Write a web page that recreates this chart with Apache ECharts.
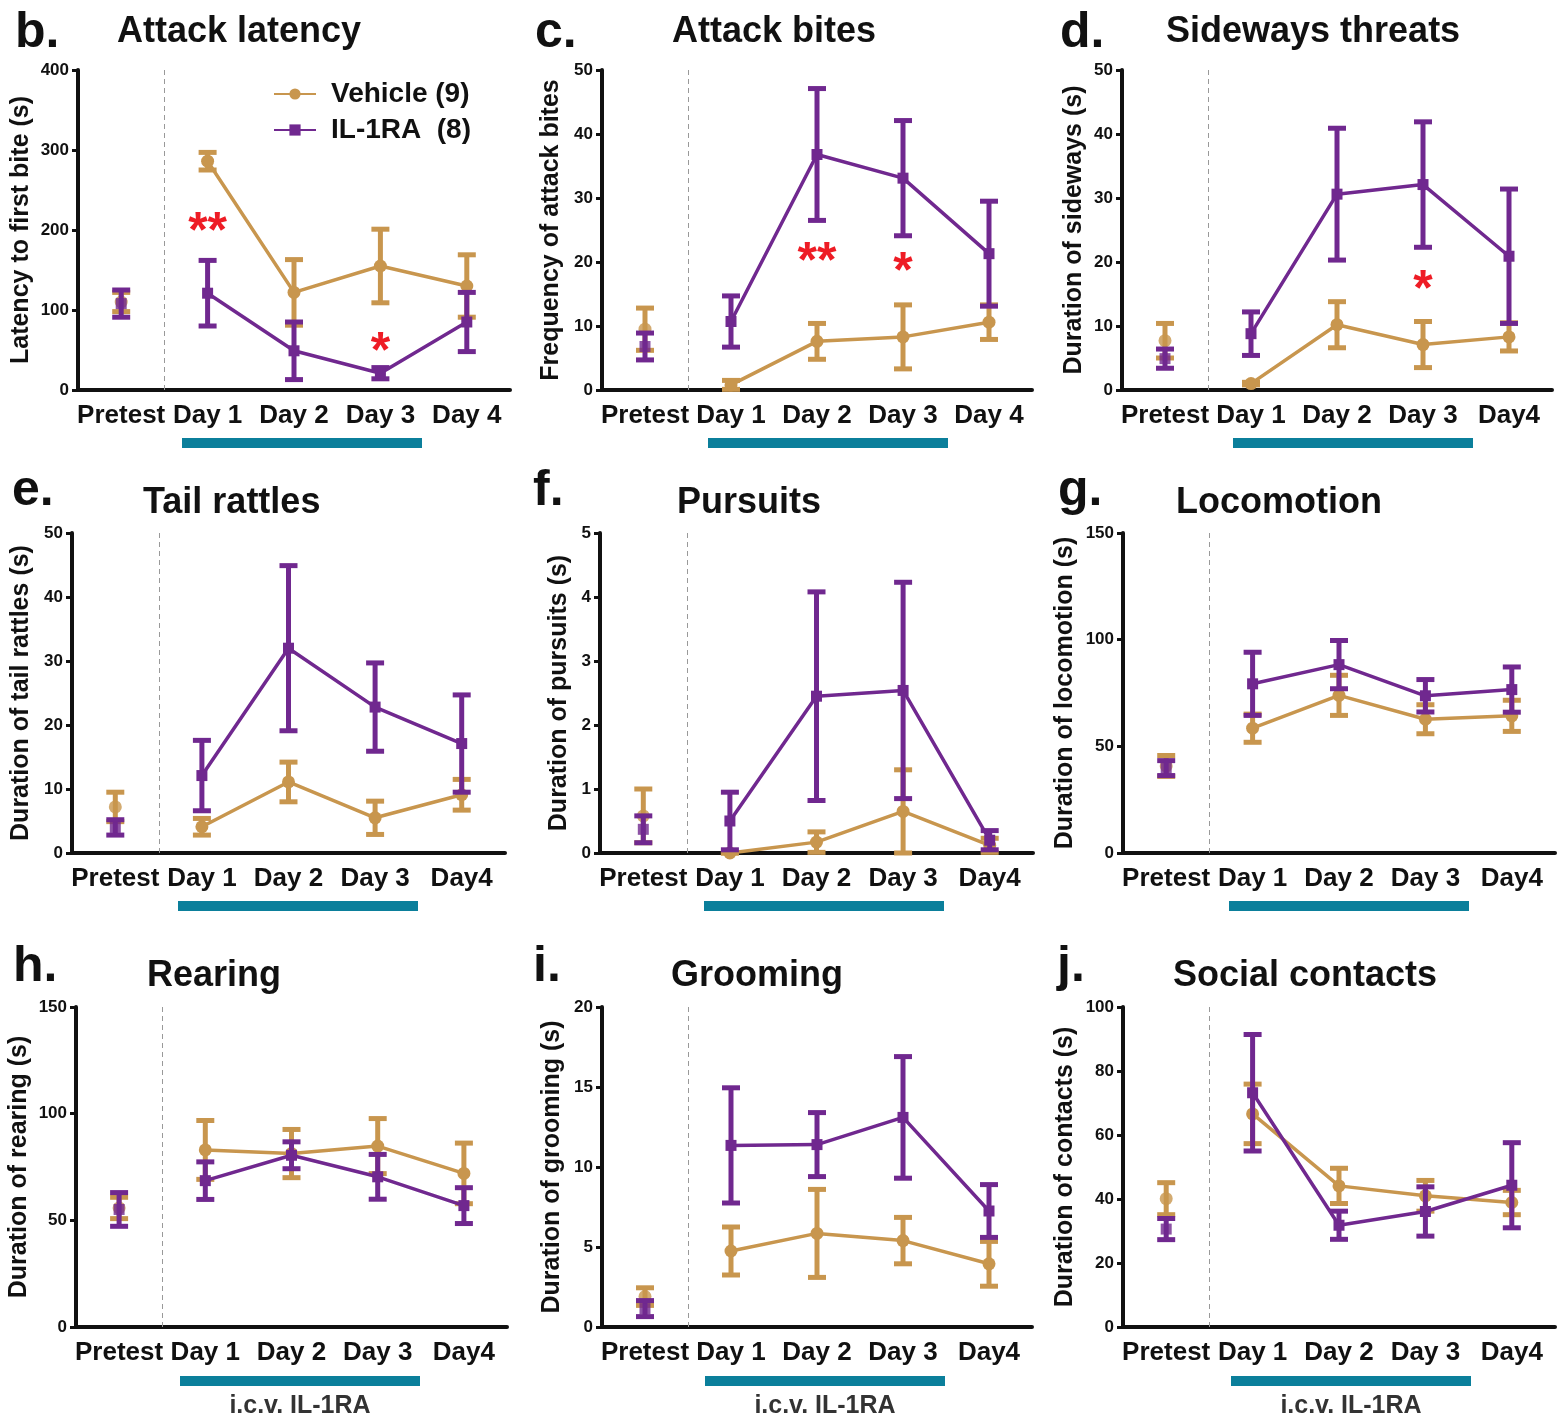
<!DOCTYPE html>
<html>
<head>
<meta charset="utf-8">
<script src="https://cdn.jsdelivr.net/npm/echarts@6/dist/echarts.min.js"></script>
<style>
  html, body { margin: 0; padding: 0; background: #fff; }
  #chart { width: 1562px; height: 1418px; }
</style>
</head>
<body>
<div id="chart"></div>
<script>
// category labels
const daysA = ['Pretest', 'Day 1', 'Day 2', 'Day 3', 'Day 4']
const daysB = ['Pretest', 'Day 1', 'Day 2', 'Day 3', 'Day4']

// b. attack latency
const latencyVeh = [110, 286, 122, 155, 130]
const latencyVehSem = [12, 11, 41, 46, 39]
const latencyIl = [108, 121, 49, 21, 85]
const latencyIlSem = [17, 41, 36, 7, 37]
const latencySig = [[1, 210, '**'], [3, 60, '*']]

// c. attack bites
const bitesVeh = [9.5, 0.8, 7.6, 8.3, 10.6]
const bitesVehSem = [3.3, 0.7, 2.8, 5.0, 2.7]
const bitesIl = [6.8, 10.7, 36.8, 33.1, 21.3]
const bitesIlSem = [2.1, 4.0, 10.3, 9.0, 8.2]
const bitesSig = [[2, 21.6, '**'], [3, 20, '*']]

// d. sideways threats
const sidewaysVeh = [7.7, 1.0, 10.2, 7.1, 8.3]
const sidewaysVehSem = [2.7, 0.2, 3.6, 3.6, 2.2]
const sidewaysIl = [4.9, 8.8, 30.6, 32.1, 20.9]
const sidewaysIlSem = [1.5, 3.4, 10.3, 9.8, 10.5]
const sidewaysSig = [[3, 17.2, '*']]

// e. tail rattles
const rattlesVeh = [7.2, 4.1, 11.1, 5.5, 9.1]
const rattlesVehSem = [2.3, 1.3, 3.1, 2.6, 2.4]
const rattlesIl = [4.0, 12.1, 32.0, 22.8, 17.1]
const rattlesIlSem = [1.2, 5.5, 12.9, 6.9, 7.6]

// f. pursuits
const pursuitsVeh = [0.58, 0.0, 0.17, 0.65, 0.12]
const pursuitsVehSem = [0.42, 0.0, 0.16, 0.65, 0.11]
const pursuitsIl = [0.37, 0.5, 2.45, 2.54, 0.2]
const pursuitsIlSem = [0.21, 0.45, 1.63, 1.69, 0.15]

// g. locomotion
const locoVeh = [40.8, 58.5, 73.9, 62.7, 64.3]
const locoVehSem = [4.9, 6.6, 9.4, 6.8, 7.3]
const locoIl = [39.8, 79.3, 88.3, 73.7, 76.6]
const locoIlSem = [3.5, 14.8, 11.3, 7.6, 10.6]

// h. rearing
const rearingVeh = [55.8, 83.0, 81.3, 84.8, 72.0]
const rearingVehSem = [5.0, 13.8, 11.3, 12.9, 14.2]
const rearingIl = [55.1, 68.6, 80.5, 70.4, 56.9]
const rearingIlSem = [7.9, 8.8, 6.3, 10.5, 8.4]

// i. grooming
const groomVeh = [1.9, 4.75, 5.85, 5.4, 3.95]
const groomVehSem = [0.55, 1.5, 2.75, 1.45, 1.4]
const groomIl = [1.15, 11.35, 11.4, 13.1, 7.25]
const groomIlSem = [0.5, 3.6, 2.0, 3.8, 1.65]

// j. social contacts
const contactVeh = [40.1, 66.6, 44.1, 41.0, 38.9]
const contactVehSem = [5.0, 9.3, 5.5, 4.8, 3.8]
const contactIl = [30.6, 73.2, 31.8, 36.1, 44.3]
const contactIlSem = [3.3, 18.2, 4.4, 7.7, 13.3]

const VEH = '#C8964E'
const IL = '#70288F'
const TEAL = '#0B7F9B'
const STAR = '#EE1C25'
const FONT = '"Liberation Sans", Arial, Helvetica, sans-serif'

const rows = [
    { top: 70, letterBase: 45, titleBase: 43, barY: 438 },
    { top: 533, letterBase: 503, titleBase: 514, barY: 901 },
    { top: 1007, letterBase: 979, titleBase: 987, barY: 1376 }
]

const panels = [
    { row: 0, left: 78, width: 432, letter: 'b.', letterX: 15, title: 'Attack latency', titleX: 117, yName: 'Latency to first bite (s)', nameGap: 44, max: 400, interval: 100, cats: daysA, barX: 182, veh: latencyVeh, vehSem: latencyVehSem, il: latencyIl, ilSem: latencyIlSem, sig: latencySig },
    { row: 0, left: 602, width: 430, letter: 'c.', letterX: 535, title: 'Attack bites', titleX: 672, yName: 'Frequency of attack bites', nameGap: 38, max: 50, interval: 10, cats: daysA, barX: 708, veh: bitesVeh, vehSem: bitesVehSem, il: bitesIl, ilSem: bitesIlSem, sig: bitesSig },
    { row: 0, left: 1122, width: 430, letter: 'd.', letterX: 1060, title: 'Sideways threats', titleX: 1166, yName: 'Duration of sideways (s)', nameGap: 35, max: 50, interval: 10, cats: daysB, barX: 1233, veh: sidewaysVeh, vehSem: sidewaysVehSem, il: sidewaysIl, ilSem: sidewaysIlSem, sig: sidewaysSig },
    { row: 1, left: 72, width: 433, letter: 'e.', letterX: 12, title: 'Tail rattles', titleX: 143, yName: 'Duration of tail rattles (s)', nameGap: 38, max: 50, interval: 10, cats: daysB, barX: 178, veh: rattlesVeh, vehSem: rattlesVehSem, il: rattlesIl, ilSem: rattlesIlSem },
    { row: 1, left: 600, width: 433, letter: 'f.', letterX: 533, title: 'Pursuits', titleX: 677, yName: 'Duration of pursuits (s)', nameGap: 28, max: 5, interval: 1, cats: daysB, barX: 704, veh: pursuitsVeh, vehSem: pursuitsVehSem, il: pursuitsIl, ilSem: pursuitsIlSem },
    { row: 1, left: 1123, width: 432, letter: 'g.', letterX: 1058, title: 'Locomotion', titleX: 1176, yName: 'Duration of locomotion (s)', nameGap: 45, max: 150, interval: 50, cats: daysB, barX: 1229, veh: locoVeh, vehSem: locoVehSem, il: locoIl, ilSem: locoIlSem },
    { row: 2, left: 76, width: 431, letter: 'h.', letterX: 13, title: 'Rearing', titleX: 147, yName: 'Duration of rearing (s)', nameGap: 44, max: 150, interval: 50, cats: daysB, barX: 180, veh: rearingVeh, vehSem: rearingVehSem, il: rearingIl, ilSem: rearingIlSem, icv: true },
    { row: 2, left: 602, width: 430, letter: 'i.', letterX: 533, title: 'Grooming', titleX: 671, yName: 'Duration of grooming (s)', nameGap: 37, max: 20, interval: 5, cats: daysB, barX: 705, veh: groomVeh, vehSem: groomVehSem, il: groomIl, ilSem: groomIlSem, icv: true },
    { row: 2, left: 1123, width: 432, letter: 'j.', letterX: 1057, title: 'Social contacts', titleX: 1173, yName: 'Duration of contacts (s)', nameGap: 45, max: 100, interval: 20, cats: daysB, barX: 1231, veh: contactVeh, vehSem: contactVehSem, il: contactIl, ilSem: contactIlSem, icv: true }
]

function errData(mean, sem) {
    return mean.map((m, i) => [i, m - sem[i], m + sem[i]])
}

function errRender(color) {
    return function (params, api) {
        const top = api.coord([api.value(0), api.value(2)])
        const bot = api.coord([api.value(0), api.value(1)])
        const hw = 9
        return {
            type: 'group',
            children: [
                { type: 'line', shape: { x1: top[0], y1: top[1], x2: bot[0], y2: bot[1] }, style: { stroke: color, lineWidth: 5 } },
                { type: 'line', shape: { x1: top[0] - hw, y1: top[1], x2: top[0] + hw, y2: top[1] }, style: { stroke: color, lineWidth: 5 } },
                { type: 'line', shape: { x1: bot[0] - hw, y1: bot[1], x2: bot[0] + hw, y2: bot[1] }, style: { stroke: color, lineWidth: 5 } }
            ]
        }
    }
}

// dashed divider between Pretest and Day 1
function dividerRender(params, api) {
    const p = api.coord([0, 0])
    const bw = api.size([1, 0])[0]
    const x = Math.round(p[0] + bw / 2) + 0.5
    const cs = params.coordSys
    return {
        type: 'line',
        shape: { x1: x, y1: cs.y, x2: x, y2: cs.y + cs.height },
        style: { stroke: '#999', lineWidth: 1, lineDash: [5, 4] }
    }
}

function sigRender(sig) {
    return function (params, api) {
        const p = api.coord([api.value(0), api.value(1)])
        return {
            type: 'text',
            x: p[0], y: p[1] + 11,
            style: { text: sig[params.dataIndex][2], fill: STAR, font: 'bold 50px ' + FONT, align: 'center', verticalAlign: 'middle' }
        }
    }
}

const grids = [], xAxes = [], yAxes = [], series = [], graphics = []

panels.forEach((pn, gi) => {
    const row = rows[pn.row]
    grids.push({ left: pn.left, top: row.top, width: pn.width, height: 320 })
    xAxes.push({
        type: 'category', gridIndex: gi, data: pn.cats, boundaryGap: true,
        axisLine: { lineStyle: { color: '#111', width: 4 } },
        axisTick: { alignWithLabel: true, length: 8, lineStyle: { width: 3, color: '#111' } },
        axisLabel: { color: '#111', fontSize: 26, fontWeight: 'bold', fontFamily: FONT, margin: 13, interval: 0 },
        splitLine: { show: false }
    })
    yAxes.push({
        type: 'value', gridIndex: gi, min: 0, max: pn.max, interval: pn.interval,
        name: pn.yName, nameLocation: 'middle', nameGap: pn.nameGap,
        nameTextStyle: { color: '#111', fontSize: 25, fontWeight: 'bold', fontFamily: FONT },
        axisLine: { show: true, lineStyle: { color: '#111', width: 4 } },
        axisTick: { show: true, length: 6, lineStyle: { width: 3, color: '#111' } },
        axisLabel: { color: '#111', fontSize: 17, fontWeight: 'bold', fontFamily: FONT, margin: 9 },
        splitLine: { show: false }
    })

    series.push({
        type: 'custom', xAxisIndex: gi, yAxisIndex: gi, z: 1, silent: true,
        data: [[0, 0]], renderItem: dividerRender
    })
    series.push({
        type: 'custom', name: 'Vehicle SEM', xAxisIndex: gi, yAxisIndex: gi, z: 2,
        data: errData(pn.veh, pn.vehSem), renderItem: errRender(VEH)
    })
    series.push({
        type: 'line', name: 'Vehicle (9)', xAxisIndex: gi, yAxisIndex: gi, z: 3,
        data: pn.veh.map((v, i) => i === 0 ? '-' : v),
        symbol: 'circle', symbolSize: 13,
        lineStyle: { color: VEH, width: 3.5 }, itemStyle: { color: VEH }
    })
    series.push({
        type: 'scatter', name: 'Vehicle pretest', xAxisIndex: gi, yAxisIndex: gi, z: 3,
        data: [[0, pn.veh[0]]], symbol: 'circle', symbolSize: 13, itemStyle: { color: VEH }
    })
    series.push({
        type: 'custom', name: 'IL-1RA SEM', xAxisIndex: gi, yAxisIndex: gi, z: 4,
        data: errData(pn.il, pn.ilSem), renderItem: errRender(IL)
    })
    series.push({
        type: 'line', name: 'IL-1RA  (8)', xAxisIndex: gi, yAxisIndex: gi, z: 5,
        data: pn.il.map((v, i) => i === 0 ? '-' : v),
        symbol: 'rect', symbolSize: 11,
        lineStyle: { color: IL, width: 3.5 }, itemStyle: { color: IL }
    })
    series.push({
        type: 'scatter', name: 'IL-1RA pretest', xAxisIndex: gi, yAxisIndex: gi, z: 5,
        data: [[0, pn.il[0]]], symbol: 'rect', symbolSize: 11, itemStyle: { color: IL }
    })
    if (pn.sig) {
        series.push({
            type: 'custom', xAxisIndex: gi, yAxisIndex: gi, z: 6, clip: false,
            data: pn.sig.map(s => [s[0], s[1]]), renderItem: sigRender(pn.sig)
        })
    }

    // panel letter and title
    graphics.push({
        type: 'text', left: pn.letterX, top: row.letterBase - 37,
        style: { text: pn.letter, font: 'bold 50px ' + FONT, fill: '#111' }
    })
    graphics.push({
        type: 'text', left: pn.titleX, top: row.titleBase - 29,
        style: { text: pn.title, font: 'bold 36px ' + FONT, fill: '#111' }
    })
    // treatment bar
    graphics.push({
        type: 'rect', shape: { x: pn.barX, y: row.barY, width: 240, height: 10 },
        style: { fill: TEAL }
    })
    if (pn.icv) {
        graphics.push({
            type: 'text', x: pn.barX + 120, y: 1406,
            style: { text: 'i.c.v. IL-1RA', font: 'bold 25px ' + FONT, fill: '#333', align: 'center', verticalAlign: 'middle' }
        })
    }
})

const chart = echarts.init(document.getElementById('chart'))
chart.setOption({
    animation: false,
    backgroundColor: '#fff',
    grid: grids,
    xAxis: xAxes,
    yAxis: yAxes,
    legend: {
        data: ['Vehicle (9)', 'IL-1RA  (8)'],
        orient: 'vertical', left: 273, top: 80, padding: 0,
        itemWidth: 42, itemHeight: 14, itemGap: 8, selectedMode: false,
        textStyle: { color: '#111', fontSize: 28, fontWeight: 'bold', fontFamily: FONT, padding: [0, 0, 0, 10] }
    },
    graphic: graphics,
    series: series
})
</script>
</body>
</html>
